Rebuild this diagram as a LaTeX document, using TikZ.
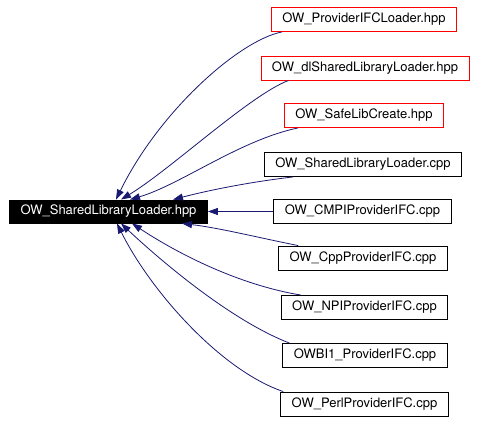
\documentclass[tikz,border=0pt]{standalone}
\usepackage{fontspec}
\setmainfont{TeX Gyre Heros}
\usetikzlibrary{arrows.meta}
\definecolor{navyedge}{HTML}{191970}

\begin{document}
\begin{tikzpicture}[x=1pt,y=-1pt,
  file/.style={draw=black,line width=0.9pt,fill=white,minimum height=24pt,inner xsep=11pt,font=\fontsize{13}{15}\selectfont},
  hdr/.style={file,draw=red},
  cur/.style={file,fill=black,text=white,minimum height=23pt},
  dep/.style={draw=navyedge,line width=0.8pt,-{Triangle[length=10pt,width=7pt,fill=navyedge]}}]
\useasboundingbox (0,0) rectangle (477,421);
% the file in question
\node [cur] (loader) at (108.5,211.5) {OW\_SharedLibraryLoader.hpp};
% files that include it
\node [hdr] (pifc) at (364,19.5) {OW\_ProviderIFCLoader.hpp};
\node [hdr] (dlsl) at (365,68) {OW\_dlSharedLibraryLoader.hpp};
\node [hdr] (safe) at (364,115.5) {OW\_SafeLibCreate.hpp};
\node [file] (slcpp) at (363,164.5) {OW\_SharedLibraryLoader.cpp};
\node [file] (cmpi) at (362.5,211.5) {OW\_CMPIProviderIFC.cpp};
\node [file] (cpp) at (363,258) {OW\_CppProviderIFC.cpp};
\node [file] (npi) at (364.5,307.5) {OW\_NPIProviderIFC.cpp};
\node [file] (bi1) at (365,355.5) {OWBI1\_ProviderIFC.cpp};
\node [file] (perl) at (364.5,404) {OW\_PerlProviderIFC.cpp};
% the include arrows:
\draw [dep] ([xshift=11pt]pifc.south west) .. controls (240,40) and (160,110) .. ([xshift=7.5pt]loader.north);
\draw [dep] ([xshift=28pt]dlsl.south west) .. controls (250,95) and (170,170) .. ([xshift=12.5pt]loader.north);
\draw [dep] ([xshift=14pt]safe.south west) .. controls (240,140) and (180,185) .. ([xshift=21.5pt]loader.north);
\draw [dep] ([xshift=29pt]slcpp.south west) .. controls (250,182) and (210,190) .. ([xshift=64.5pt]loader.north);
\draw [dep] (cmpi.west) -- (loader.east);
\draw [dep] ([xshift=20pt]cpp.north west) .. controls (260,238) and (220,228) .. ([xshift=73.5pt]loader.south);
\draw [dep] ([xshift=20pt]npi.north west) .. controls (240,285) and (180,255) .. ([xshift=23.5pt]loader.south);
\draw [dep] ([xshift=7pt]bi1.north west) .. controls (230,320) and (160,260) .. ([xshift=12.5pt]loader.south);
\draw [dep] ([xshift=3pt]perl.north west) .. controls (220,370) and (150,290) .. ([xshift=8.5pt]loader.south);
\end{tikzpicture}
\end{document}
